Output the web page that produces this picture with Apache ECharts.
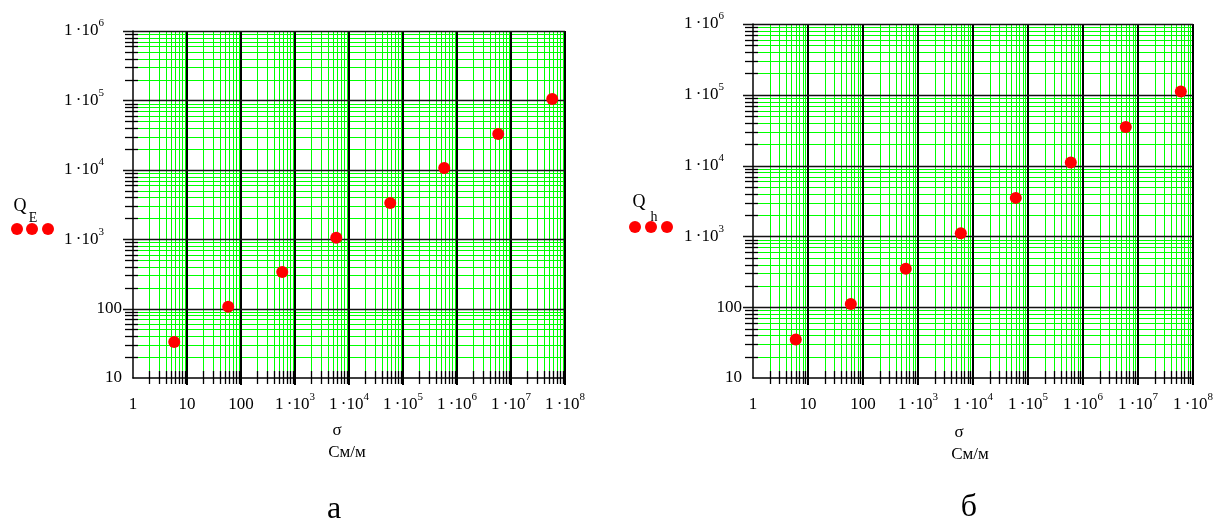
<!DOCTYPE html>
<html>
<head>
<meta charset="utf-8">
<script src="https://cdn.jsdelivr.net/npm/echarts@6/dist/echarts.min.js"></script>
<style>
html,body{margin:0;padding:0;background:#fff;}
#c{width:1216px;height:525px;}
</style>
</head>
<body>
<div id="c"></div>
<script>
// ---- data ----
const sigmaA = [5.8, 58, 580, 5800, 58000, 580000, 5800000, 58000000];
const QE     = [33, 106, 337, 1050, 3320, 10600, 32800, 105000];
const sigmaB = [6, 60, 600, 6000, 60000, 600000, 6000000, 60000000];
const Qh     = [35, 111, 350, 1110, 3500, 11100, 35000, 111000];

// tick labels: [mantissa text, exponent or ''] for each decade
const xTickLabels = [['1',''],['10',''],['100',''],['1\u2009·10','3'],['1\u2009·10','4'],['1\u2009·10','5'],['1\u2009·10','6'],['1\u2009·10','7'],['1\u2009·10','8']];
const yTickLabels = [['10',''],['100',''],['1\u2009·10','3'],['1\u2009·10','4'],['1\u2009·10','5'],['1\u2009·10','6']];
const xDecades = [0,1,2,3,4,5,6,7];       // decades with minor grid lines (x)
const yDecades = [1,2,3,4,5];             // decades with minor grid lines (y)
const xMajorExp = [1,2,3,4,5,6,7,8];      // major (black) vertical lines
const yMajorExp = [2,3,4,5,6];            // major (black) horizontal lines
const minorDigits = [2,3,4,5,6,7,8,9];

const FONT = '"Liberation Serif","Times New Roman",serif';
const GREEN = '#00ff00';

const xMinor = [];
xDecades.forEach(k => minorDigits.forEach(d => xMinor.push(d * Math.pow(10, k))));
const yMinor = [];
yDecades.forEach(k => minorDigits.forEach(d => yMinor.push(d * Math.pow(10, k))));
const xMajor = xMajorExp.map(k => Math.pow(10, k));
const yMajor = yMajorExp.map(k => Math.pow(10, k));

function labelFmt(table, firstExp, gap) {
  return function (v) {
    const lg = Math.log10(v);
    const e = Math.round(lg);
    if (Math.abs(lg - e) > 1e-6) return '';
    const t = table[e - firstExp];
    if (!t) return '';
    if (t[1]) return '{m|' + t[0] + '}{s|' + t[1] + '}' + (gap ? '{g|}' : '');
    return '{m|' + t[0] + '}';
  };
}
const rich = {
  m: {fontFamily: FONT, fontSize: 17, color: '#000', lineHeight: 26, verticalAlign: 'middle'},
  s: {fontFamily: FONT, fontSize: 11, color: '#000', lineHeight: 11, verticalAlign: 'top'},
  g: {width: 18, lineHeight: 26}
};

function xAxisDef(gi) {
  return {
    type: 'log', logBase: 10, gridIndex: gi, min: 1, max: 1e8, splitNumber: 8, z: 3,
    axisLine: {show: true, onZero: false, lineStyle: {color: '#000', width: 1.5}},
    axisTick: {show: false},
    axisLabel: {show: true, margin: 14, formatter: labelFmt(xTickLabels, 0, false), rich: rich, hideOverlap: false},
    splitLine: {show: false},
    minorTick: {show: false}, minorSplitLine: {show: false}
  };
}
function yAxisDef(gi) {
  return {
    type: 'log', logBase: 10, gridIndex: gi, min: 10, max: 1e6, splitNumber: 5, z: 3,
    axisLine: {show: true, onZero: false, lineStyle: {color: '#000', width: 1.5}},
    axisTick: {show: false},
    axisLabel: {show: true, margin: 11, formatter: labelFmt(yTickLabels, 1, true), rich: rich, hideOverlap: false},
    splitLine: {show: false},
    minorTick: {show: false}, minorSplitLine: {show: false}
  };
}

// grid lines + ticks drawn through the axis scales (api.coord)
function gridSeries(gi, dir, major) {
  let data;
  if (dir === 'v') data = (major ? xMajor : xMinor).map(v => [v, 10]);
  else data = (major ? yMajor : yMinor).map(v => [1, v]);
  return {
    type: 'custom', xAxisIndex: gi, yAxisIndex: gi, z: major ? 2 : 1, silent: true, clip: false,
    data: data,
    renderItem: function (params, api) {
      const cs = params.coordSys;
      const p = api.coord([api.value(0), api.value(1)]);
      const bottom = cs.y + cs.height;
      if (dir === 'v') {
        const X = major ? Math.round(p[0]) : Math.round(p[0]) + 0.5;
        if (major) {
          return {type: 'group', children: [
            {type: 'line', shape: {x1: X, y1: cs.y, x2: X, y2: bottom + 7}, style: {stroke: '#000', lineWidth: 2}}
          ]};
        }
        return {type: 'group', children: [
          {type: 'line', shape: {x1: X, y1: cs.y, x2: X, y2: bottom - 7}, style: {stroke: GREEN, lineWidth: 1}},
          {type: 'line', shape: {x1: X, y1: bottom - 7, x2: X, y2: bottom + 6}, style: {stroke: '#000', lineWidth: 1.3}}
        ]};
      } else {
        const Y = Math.round(p[1]) + 0.5;
        if (major) {
          return {type: 'group', children: [
            {type: 'line', shape: {x1: cs.x - 10, y1: Y, x2: cs.x + cs.width, y2: Y}, style: {stroke: '#111', lineWidth: 1.5}}
          ]};
        }
        return {type: 'group', children: [
          {type: 'line', shape: {x1: cs.x + 5, y1: Y, x2: cs.x + cs.width, y2: Y}, style: {stroke: GREEN, lineWidth: 1}},
          {type: 'line', shape: {x1: cs.x - 8, y1: Y, x2: cs.x + 5, y2: Y}, style: {stroke: '#000', lineWidth: 1.3}}
        ]};
      }
    }
  };
}

function pts(xs, ys) { return xs.map((x, i) => [x, ys[i]]); }

function txt(x, y, text, size) {
  return {type: 'text', x: x, y: y, z: 10, style: {text: text, font: size + 'px ' + FONT, fill: '#000', align: 'center', verticalAlign: 'middle'}};
}
function dot(x, y) {
  return {type: 'circle', z: 10, shape: {cx: x, cy: y, r: 6}, style: {fill: '#ff0000'}};
}

const chart = echarts.init(document.getElementById('c'), null, {renderer: 'canvas'});
chart.setOption({
  backgroundColor: '#fff',
  animation: false,
  grid: [
    {left: 133, top: 31, width: 432, height: 347, show: false, outerBoundsMode: 'none', containLabel: false},
    {left: 753, top: 24, width: 440, height: 354, show: false, outerBoundsMode: 'none', containLabel: false}
  ],
  xAxis: [xAxisDef(0), xAxisDef(1)],
  yAxis: [yAxisDef(0), yAxisDef(1)],
  series: [
    gridSeries(0, 'v', false), gridSeries(0, 'h', false),
    gridSeries(1, 'v', false), gridSeries(1, 'h', false),
    gridSeries(0, 'v', true), gridSeries(0, 'h', true),
    gridSeries(1, 'v', true), gridSeries(1, 'h', true),
    {type: 'scatter', name: 'Q_E', xAxisIndex: 0, yAxisIndex: 0, z: 5, symbol: 'circle', symbolSize: 12,
     itemStyle: {color: '#ff0000', opacity: 1}, data: pts(sigmaA, QE)},
    {type: 'scatter', name: 'Q_h', xAxisIndex: 1, yAxisIndex: 1, z: 5, symbol: 'circle', symbolSize: 12,
     itemStyle: {color: '#ff0000', opacity: 1}, data: pts(sigmaB, Qh)}
  ],
  graphic: [
    // legend a
    txt(20, 206, 'Q', 18), txt(33, 218, 'E', 14),
    dot(17, 229), dot(32, 229), dot(48, 229),
    // legend б
    txt(639, 202, 'Q', 18), txt(654, 217, 'h', 14),
    dot(635, 227), dot(651, 227), dot(667, 227),
    // axis titles
    txt(337, 431, 'σ', 17), txt(347, 453, 'См/м', 17),
    txt(959, 433, 'σ', 17), txt(970, 455, 'См/м', 17),
    // captions
    txt(334, 510, 'а', 32), txt(969, 508, 'б', 32)
  ]
});
</script>
</body>
</html>
